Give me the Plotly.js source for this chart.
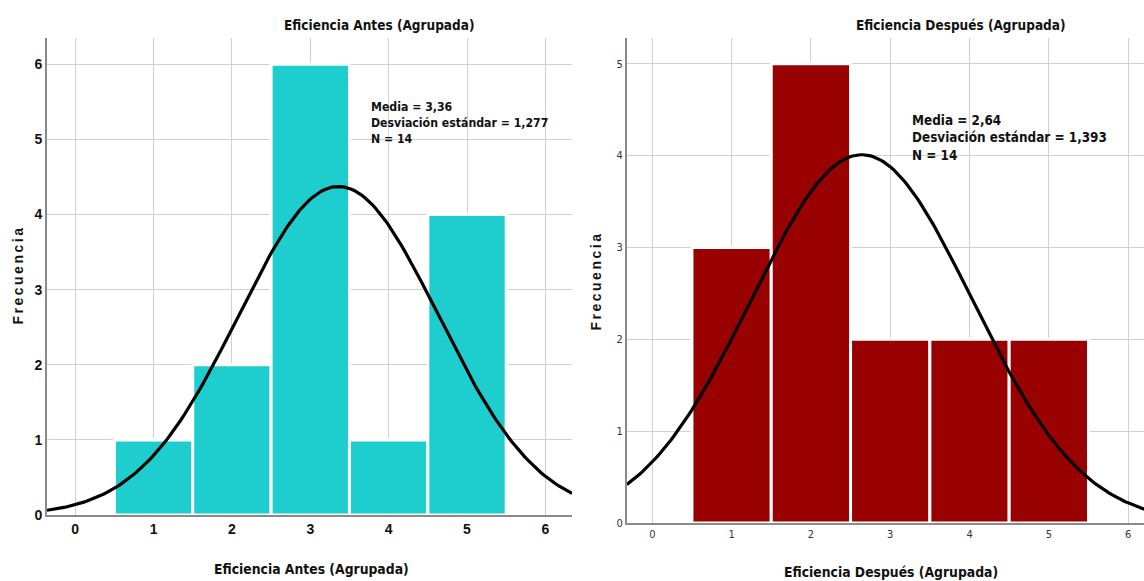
<!DOCTYPE html>
<html>
<head>
<meta charset="utf-8">
<script src="https://cdn.plot.ly/plotly-3.0.1.min.js"></script>
<style>html,body{margin:0;padding:0;background:#fff}#chart{width:1144px;height:581px}</style>
</head>
<body>
<div id="chart"></div>
<script>
// Data
const categories = [1, 2, 3, 4, 5];
const antesCounts = [1, 2, 6, 1, 4];
const despuesCounts = [3, 5, 2, 2, 2];
const antesStats = {mean: 3.36, sd: 1.277, n: 14};
const despuesStats = {mean: 2.64, sd: 1.393, n: 14};
const antesTitle = "Eficiencia Antes (Agrupada)";
const despuesTitle = "Eficiencia Después (Agrupada)";
const yTitle = "Frecuencia";
const xTickVals = [0, 1, 2, 3, 4, 5, 6];
const antesYTicks = [0, 1, 2, 3, 4, 5, 6];
const despuesYTicks = [0, 1, 2, 3, 4, 5];

// fitted normal curve (count scale, bin width 1)
function normalCurve(st, x0, x1) {
  const xs = [], ys = [];
  const steps = 200;
  for (let i = 0; i <= steps; i++) {
    const x = x0 + (x1 - x0) * i / steps;
    const z = (x - st.mean) / st.sd;
    xs.push(x);
    ys.push(st.n * Math.exp(-0.5 * z * z) / (st.sd * Math.sqrt(2 * Math.PI)));
  }
  return {xs, ys};
}
const cA = normalCurve(antesStats, -0.36, 6.34);
const cD = normalCurve(despuesStats, -0.32, 6.22);

const narrow = "Liberation Sans Narrow, Arial Narrow, DejaVu Sans Condensed, Arial, sans-serif";
const arial = "Arial, Liberation Sans, sans-serif";

const traces = [
  {type: 'bar', x: categories, y: antesCounts, width: 1, xaxis: 'x', yaxis: 'y',
   marker: {color: '#1ECECE', line: {color: '#ffffff', width: 3}}, hoverinfo: 'x+y'},
  {type: 'scatter', mode: 'lines', x: cA.xs, y: cA.ys, xaxis: 'x', yaxis: 'y',
   line: {color: '#000000', width: 3.2}, hoverinfo: 'skip'},
  {type: 'bar', x: categories, y: despuesCounts, width: 1, xaxis: 'x2', yaxis: 'y2',
   marker: {color: '#990000', line: {color: '#ffffff', width: 3}}, hoverinfo: 'x+y'},
  {type: 'scatter', mode: 'lines', x: cD.xs, y: cD.ys, xaxis: 'x2', yaxis: 'y2',
   line: {color: '#000000', width: 3.2}, hoverinfo: 'skip'}
];

const gridCol = '#d0d0d0';
const axisCol = '#8a8a8a';
const statText = st => 'Media = ' + st.mean.toFixed(2).replace('.', ',') +
  '<br>Desviación estándar = ' + st.sd.toFixed(3).replace('.', ',') + '<br>N = ' + st.n;

const layout = {
  width: 1144, height: 581,
  margin: {l: 0, r: 0, t: 0, b: 0},
  paper_bgcolor: '#ffffff', plot_bgcolor: '#ffffff',
  showlegend: false, bargap: 0,
  xaxis: {domain: [0.0411, 0.5], range: [-0.36, 6.34], anchor: 'y',
    tickvals: xTickVals, ticks: '', showgrid: true, gridcolor: gridCol, gridwidth: 1,
    zeroline: false, showline: true, linecolor: axisCol, linewidth: 2,
    tickfont: {family: arial, size: 14, color: '#111', weight: 'bold'}},
  yaxis: {domain: [0.1136, 0.9346], range: [0, 6.35], anchor: 'x',
    tickvals: antesYTicks, ticks: '', showgrid: true, gridcolor: gridCol, gridwidth: 1,
    zeroline: false, showline: true, linecolor: axisCol, linewidth: 2,
    tickfont: {family: arial, size: 14, color: '#111', weight: 'bold'}},
  xaxis2: {domain: [0.548, 1.0], range: [-0.32, 6.2], anchor: 'y2',
    tickvals: xTickVals, ticks: '', showgrid: true, gridcolor: gridCol, gridwidth: 1,
    zeroline: false, showline: true, linecolor: axisCol, linewidth: 2,
    tickfont: {family: narrow, size: 11, color: '#333'}},
  yaxis2: {domain: [0.0998, 0.9346], range: [0, 5.28], anchor: 'x2',
    tickvals: despuesYTicks, ticks: '', showgrid: true, gridcolor: gridCol, gridwidth: 1,
    zeroline: false, showline: true, linecolor: axisCol, linewidth: 2,
    tickfont: {family: narrow, size: 11, color: '#333'}},
  annotations: [
    {text: antesTitle, xref: 'paper', yref: 'paper', x: 379/1144, y: 1 - 25/581, showarrow: false,
     xanchor: 'center', yanchor: 'middle', font: {family: narrow, size: 13.5, color: '#111', weight: 'bold'}},
    {text: despuesTitle, xref: 'paper', yref: 'paper', x: 961/1144, y: 1 - 25/581, showarrow: false,
     xanchor: 'center', yanchor: 'middle', font: {family: narrow, size: 13.5, color: '#111', weight: 'bold'}},
    {text: antesTitle, xref: 'paper', yref: 'paper', x: 311/1144, y: 1 - 569/581, showarrow: false,
     xanchor: 'center', yanchor: 'middle', font: {family: narrow, size: 13.8, color: '#111', weight: 'bold'}},
    {text: despuesTitle, xref: 'paper', yref: 'paper', x: 891/1144, y: 1 - 572/581, showarrow: false,
     xanchor: 'center', yanchor: 'middle', font: {family: narrow, size: 13.8, color: '#111', weight: 'bold'}},
    {text: yTitle, xref: 'paper', yref: 'paper', x: 18/1144, y: 1 - 275/581, showarrow: false, textangle: -90,
     xanchor: 'center', yanchor: 'middle', font: {family: arial, size: 14, color: '#111', weight: 'bold'}},
    {text: yTitle, xref: 'paper', yref: 'paper', x: 596/1144, y: 1 - 281/581, showarrow: false, textangle: -90,
     xanchor: 'center', yanchor: 'middle', font: {family: arial, size: 14, color: '#111', weight: 'bold'}},
    {text: statText(antesStats),
     xref: 'paper', yref: 'paper', x: 369/1144, y: 1 - 98/581, showarrow: false, align: 'left',
     xanchor: 'left', yanchor: 'top', font: {family: narrow, size: 12.2, color: '#111', weight: 'bold'}},
    {text: statText(despuesStats),
     xref: 'paper', yref: 'paper', x: 910/1144, y: 1 - 111/581, showarrow: false, align: 'left',
     xanchor: 'left', yanchor: 'top', font: {family: narrow, size: 13.4, color: '#111', weight: 'bold'}}
  ]
};

Plotly.newPlot('chart', traces, layout, {displayModeBar: false, staticPlot: true}).then(() => {
  document.querySelectorAll('.annotation-text').forEach(t => {
    if (t.textContent === yTitle) t.style.letterSpacing = '2.5px';
  });
});
</script>
</body>
</html>
